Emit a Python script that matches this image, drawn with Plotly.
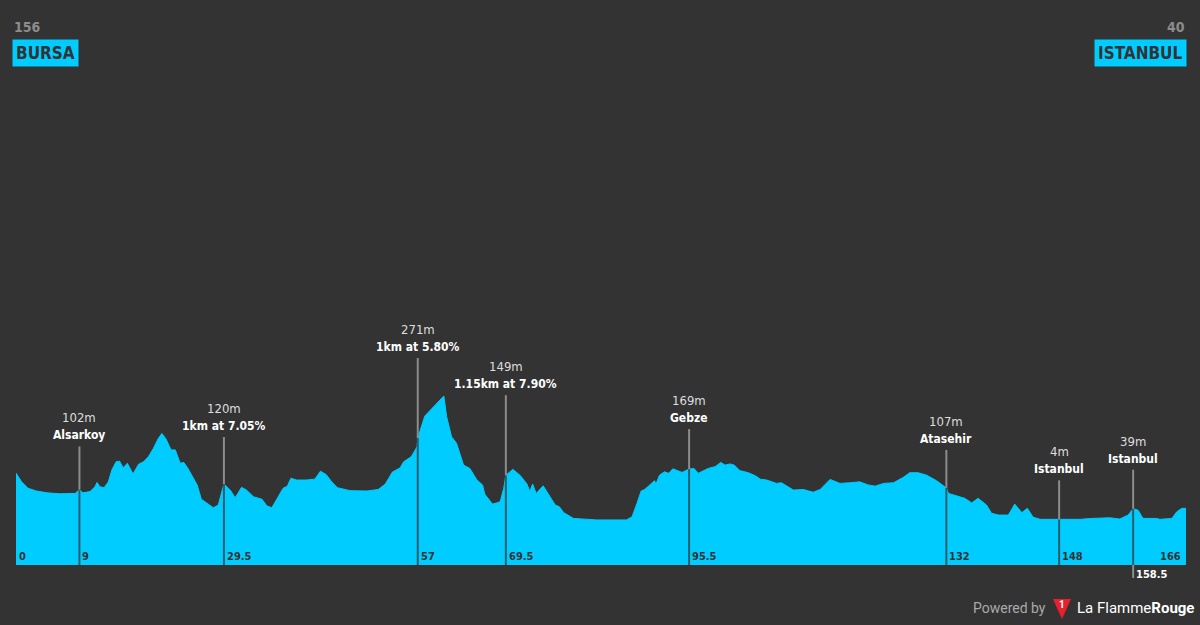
import plotly.graph_objects as go

# elevation profile, km vs metres
dist_km = [0, 0.8, 1.7, 2.9, 4.4, 6.2, 8.4, 9, 9.5, 10.5, 11.2, 11.5, 11.9, 12.5, 13.1, 13.6, 14.2, 14.7,
	15.2, 15.8, 16.6, 17.4, 18.1, 18.8, 19.5, 20.2, 20.7, 21.3, 22.0, 22.6, 23.3, 23.8, 24.4, 25.1, 25.7,
	26.3, 27.1, 28.0, 28.7, 29.2, 29.5, 30.4, 31.1, 32.0, 32.7, 33.7, 34.9, 35.6, 36.3, 37.2, 37.9, 38.5,
	39.0, 39.8, 41.2, 42.4, 43.2, 44.0, 44.8, 45.6, 47.4, 49.8, 51.4, 52.4, 53.4, 54.5, 55.0, 56.1, 56.9,
	57, 57.6, 58.0, 60.7, 61.1, 61.8, 62.5, 63.5, 64.4, 65.4, 66.2, 66.5, 67.6, 68.2, 68.7, 69.2, 69.5,
	70.5, 71.5, 72.5, 72.9, 73.3, 73.8, 74.8, 75.5, 76.5, 77.1, 77.7, 79.1, 81.0, 82.4, 86.6, 87.4, 88.1,
	88.7, 89.2, 90.2, 90.6, 90.8, 91.3, 92.0, 92.6, 93.2, 94.5, 95.5, 96.2, 96.8, 98.2, 99.2, 100.0,
	100.6, 101.3, 101.9, 102.7, 103.9, 104.9, 105.6, 106.5, 107.9, 108.6, 110.3, 111.7, 113.1, 114.1,
	115.5, 116.9, 118.3, 119.7, 120.9, 121.9, 123.1, 124.5, 125.9, 126.8, 128.0, 129.2, 130.6, 132,
	132.3, 133.7, 134.6, 135.6, 136.5, 137.7, 138.4, 139.4, 140.8, 141.7, 142.7, 143.5, 144.3, 145.3,
	148.0, 151.0, 152.6, 155.2, 156.6, 157.8, 158.5, 159.2, 159.9, 161.8, 162.3, 164.0, 164.7, 165.4, 166]
elev_m = [156, 127, 106, 97, 91, 88, 89, 102, 91, 95, 111, 125, 111, 108, 127, 166, 193, 195,
	173, 188, 153, 185, 193, 210, 237, 270, 286, 267, 232, 232, 188, 191, 171, 144, 117,
	70, 57, 42, 51, 89, 120, 100, 75, 109, 100, 78, 70, 48, 42, 78, 106, 113,
	139, 133, 133, 136, 162, 151, 127, 108, 98, 97, 102, 120, 159, 173, 193, 210, 242,
	271, 314, 343, 409, 341, 275, 254, 182, 171, 133, 117, 87, 54, 58, 62, 106, 149,
	168, 149, 120, 95, 120, 89, 114, 89, 51, 45, 26, 7, 5, 2, 2, 12, 56,
	97, 102, 124, 131, 120, 149, 160, 155, 170, 158, 169, 171, 155, 171, 177, 191,
	182, 186, 182, 164, 157, 147, 136, 133, 122, 124, 100, 102, 93, 102,
	135, 122, 124, 127, 117, 113, 122, 124, 142, 157, 157, 149, 131, 107,
	89, 80, 73, 58, 73, 51, 24, 18, 18, 54, 26, 40, 11, 4,
	4, 4, 7, 9, 5, 18, 39, 34, 7, 7, 4, 7, 29, 40, 40]

# points of interest
poi_km = [9, 29.5, 57, 69.5, 95.5, 132, 148, 158.5]
poi_elev = [102, 120, 271, 149, 169, 107, 4, 39]
poi_name = ['Alsarkoy', '1km at 7.05%', '1km at 5.80%', '1.15km at 7.90%', 'Gebze', 'Atasehir', 'Istanbul', 'Istanbul']
poi_tick = ['9', '29.5', '57', '69.5', '95.5', '132', '148', '158.5']

start_name, start_elev = 'BURSA', 156
finish_name, finish_elev = 'ISTANBUL', 40

BG = '#333333'
CYAN = '#00ccff'
FONT = 'DejaVu Sans Condensed, Liberation Sans Narrow, Roboto, sans-serif'
Y_MIN, Y_MAX = -146, 1381
PX_PER_M = 465 / (Y_MAX - Y_MIN)
poi_lift = [43, 47, 80, 80, 40, 38, 39, 39]  # pixels from profile to top of marker line

fig = go.Figure()
fig.add_trace(go.Scatter(x=[dist_km[0], dist_km[-1]], y=[Y_MIN, Y_MIN], mode='lines',
	line=dict(width=0), hoverinfo='skip', showlegend=False))
fig.add_trace(go.Scatter(x=dist_km, y=elev_m, mode='lines', fill='tonexty', fillcolor=CYAN,
	line=dict(color=CYAN, width=1), hoverinfo='skip', showlegend=False))

shapes = []
annotations = []
for i, km in enumerate(poi_km):
	top = poi_elev[i] + poi_lift[i] / PX_PER_M
	shapes.append(dict(type='line', xref='x', yref='y', x0=km, x1=km, y0=Y_MIN, y1=poi_elev[i],
		line=dict(color='#2b5d6c', width=2)))
	shapes.append(dict(type='line', xref='x', yref='y', x0=km, x1=km, y0=poi_elev[i], y1=top,
		line=dict(color='#8c8c8c', width=2)))
	annotations.append(dict(x=km, y=top, xref='x', yref='y', text=poi_name[i], showarrow=False,
		yanchor='bottom', yshift=2, font=dict(family=FONT, size=12, color='white', weight='bold')))
	annotations.append(dict(x=km, y=top, xref='x', yref='y', text=f'{poi_elev[i]}m', showarrow=False,
		yanchor='bottom', yshift=19, font=dict(family=FONT, size=13, color='#dddddd')))
	if poi_tick[i] == '158.5':
		shapes.append(dict(type='line', xref='x', yref='paper', x0=km, x1=km, y0=0, y1=-0.028,
			line=dict(color='#8c8c8c', width=2)))
		annotations.append(dict(x=km, y=0, xref='x', yref='paper', text=poi_tick[i], showarrow=False,
			xanchor='left', yanchor='top', xshift=1, yshift=-1,
			font=dict(family=FONT, size=11, color='white', weight='bold')))
	else:
		annotations.append(dict(x=km, y=0, xref='x', yref='paper', text=poi_tick[i], showarrow=False,
			xanchor='left', yanchor='bottom', xshift=1, yshift=0,
			font=dict(family=FONT, size=11, color=BG, weight='bold')))

annotations.append(dict(x=dist_km[0], y=0, xref='x', yref='paper', text='0', showarrow=False,
	xanchor='left', yanchor='bottom', xshift=1, font=dict(family=FONT, size=11, color=BG, weight='bold')))
annotations.append(dict(x=dist_km[-1], y=0, xref='x', yref='paper', text='166', showarrow=False,
	xanchor='right', yanchor='bottom', xshift=-3, font=dict(family=FONT, size=11, color=BG, weight='bold')))

# start / finish boxes
annotations.append(dict(x=-0.003, y=1.156, xref='paper', yref='paper', text=f'<b>{start_elev}</b>', showarrow=False,
	xanchor='left', yanchor='middle', font=dict(family=FONT, size=14, color='#8c8c8c')))
annotations.append(dict(x=-0.003, y=1.101, xref='paper', yref='paper', text=f'<b>{start_name}</b>', showarrow=False,
	xanchor='left', yanchor='middle', bgcolor=CYAN, borderpad=3, font=dict(family=FONT, size=17, color=BG)))
annotations.append(dict(x=1.001, y=1.156, xref='paper', yref='paper', text=f'<b>{finish_elev}</b>', showarrow=False,
	xanchor='right', yanchor='middle', font=dict(family=FONT, size=14, color='#8c8c8c')))
annotations.append(dict(x=1.001, y=1.101, xref='paper', yref='paper', text=f'<b>{finish_name}</b>', showarrow=False,
	xanchor='right', yanchor='middle', bgcolor=CYAN, borderpad=3, font=dict(family=FONT, size=17, color=BG)))

# powered by footer
annotations.append(dict(x=0.882, y=-0.092, xref='paper', yref='paper', text='Powered by', showarrow=False,
	xanchor='right', yanchor='middle', font=dict(family='Roboto, sans-serif', size=14, color='#aaaaaa')))
annotations.append(dict(x=0.905, y=-0.092, xref='paper', yref='paper',
	text='La Flamme<b>Rouge</b>', showarrow=False,
	xanchor='left', yanchor='middle', font=dict(family='Roboto, sans-serif', size=15, color='white')))
shapes.append(dict(type='path', xref='paper', yref='paper',
	path='M 0.8863 -0.0731 L 0.9017 -0.0731 L 0.8940 -0.1161 Z',
	fillcolor='#e8202e', line=dict(width=0)))
annotations.append(dict(x=0.8940, y=-0.086, xref='paper', yref='paper', text='<b>1</b>', showarrow=False,
	xanchor='center', yanchor='middle', font=dict(family='Roboto, sans-serif', size=10, color='white')))

fig.update_layout(
	width=1200, height=625,
	margin=dict(l=16, r=14, t=100, b=60),
	paper_bgcolor=BG, plot_bgcolor=BG,
	xaxis=dict(range=[0, 166], visible=False, fixedrange=True),
	yaxis=dict(range=[Y_MIN, Y_MAX], visible=False, fixedrange=True),
	shapes=shapes, annotations=annotations,
	hovermode=False,
)
# page body has a default 8px margin, drop it so the chart sits at the corner
fig.write_html('out.html', config={'displayModeBar': False},
	post_script="document.body.style.margin='0';")
